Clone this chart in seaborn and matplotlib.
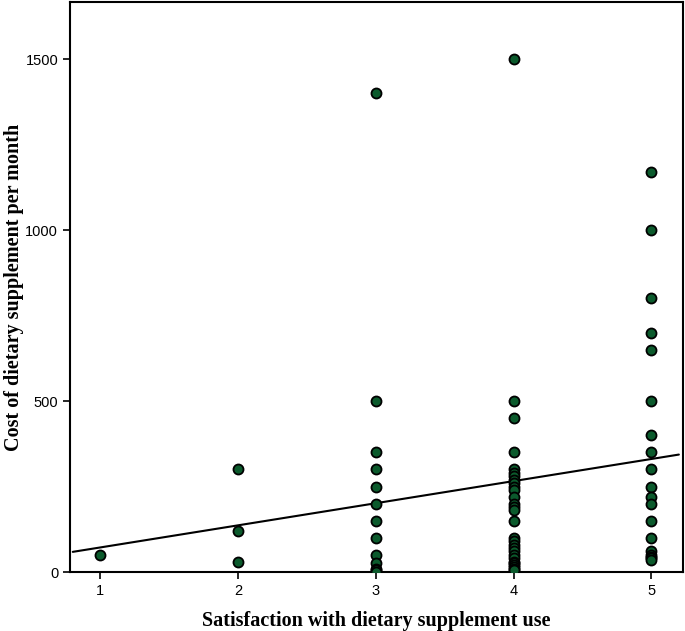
import numpy as np
import pandas as pd
import matplotlib
matplotlib.use("Agg")
import matplotlib.pyplot as plt
import seaborn as sns

# ---- data ----
sat_1 = [50]
sat_2 = [300, 120, 30]
sat_3 = [1400, 500, 350, 300, 250, 200, 150, 100, 50, 25, 10, 5, 0]
sat_4 = [1500, 500, 450, 350, 300, 290, 280, 270, 260, 250, 240, 220, 200,
         190, 180, 150, 100, 90, 80, 70, 60, 50, 40, 30, 25, 20, 15, 10, 5]
sat_5 = [1170, 1000, 800, 700, 650, 500, 400, 350, 300, 250, 220, 200, 150,
         100, 60, 50, 45, 40, 35]
x_ticks = [1, 2, 3, 4, 5]
y_ticks = [0, 500, 1000, 1500]
x_label = "Satisfaction with dietary supplement use"
y_label = "Cost of dietary supplement per month"

groups = [sat_1, sat_2, sat_3, sat_4, sat_5]
df = pd.DataFrame({
    "satisfaction": np.concatenate([[x] * len(g) for x, g in zip(x_ticks, groups)]),
    "cost": np.concatenate(groups),
})

sns.set_style("white")
plt.rcParams["font.family"] = ["Liberation Sans", "DejaVu Sans"]

fig = plt.figure(figsize=(6.85, 6.31), dpi=100)
ax = fig.add_axes([70 / 685, 1 - 572 / 631, 613 / 685, 570 / 631])

sns.regplot(data=df, x="satisfaction", y="cost", ax=ax, ci=None, truncate=False,
            scatter_kws=dict(s=52, color="#0b5a2c", edgecolor="black",
                             linewidths=1.3, alpha=1, zorder=3),
            line_kws=dict(color="black", lw=1.5, zorder=2))

ax.set_xlim(0.78, 5.23)
ax.set_ylim(0, 1667)
ax.set_xticks(x_ticks)
ax.set_yticks(y_ticks)
ax.tick_params(axis="both", direction="out", length=5, width=1.2,
               labelsize=10.5, colors="black", bottom=True, left=True)
for s in ax.spines.values():
    s.set_color("black")
    s.set_linewidth(1.5)

ax.set_xlabel(x_label, family=["Liberation Serif"], fontweight="bold",
              fontsize=14.5, color="black")
ax.set_ylabel(y_label, family=["Liberation Serif"], fontweight="bold",
              fontsize=14.5, color="black")
ax.xaxis.set_label_coords(0.5, -0.068)
ax.yaxis.set_label_coords(-0.075, 0.5)

fig.savefig("out.png", dpi=100)
